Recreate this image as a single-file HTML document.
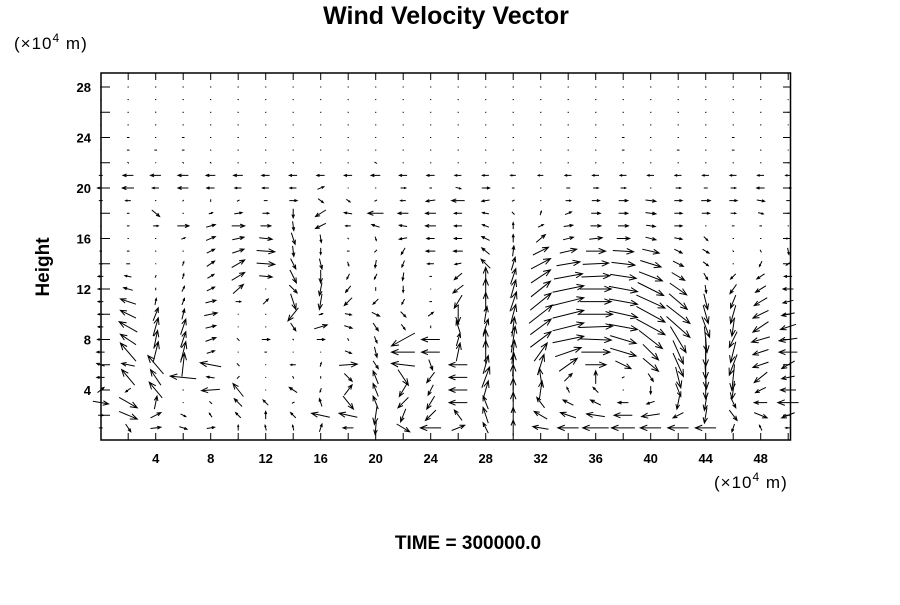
<!DOCTYPE html>
<html><head><meta charset="utf-8"><style>
body{margin:0;background:#fff;width:900px;height:600px;overflow:hidden}
svg text{font-family:"Liberation Sans",sans-serif}
</style></head><body>
<svg id="chart" width="900" height="600" viewBox="0 0 900 600">
<text x="446" y="24" text-anchor="middle" font-size="25" font-weight="bold">Wind Velocity Vector</text>
<text x="14" y="49" font-size="17" letter-spacing="1">(×10<tspan dy="-7" font-size="12">4</tspan><tspan dy="7">  m)</tspan></text>
<text transform="translate(49,267) rotate(-90)" text-anchor="middle" font-size="19" font-weight="bold">Height</text>
<text x="714" y="488" font-size="17" letter-spacing="1">(×10<tspan dy="-7" font-size="12">4</tspan><tspan dy="7">  m)</tspan></text>
<text x="468" y="549" text-anchor="middle" font-size="19" font-weight="bold">TIME = 300000.0</text>
<g id="ticks"></g>
<g id="arrows"></g>
<rect x="101" y="73" width="689.5" height="367" fill="none" stroke="#000" stroke-width="1.5"/>
</svg>
<script>
const xTicks=[4,8,12,16,20,24,28,32,36,40,44,48];
const yTicks=[4,8,12,16,20,24,28];
const xs=[0,2,4,6,8,10,12,14,16,18,20,22,24,26,28,30,32,34,36,38,40,42,44,46,48,50];
const ys=[28,27,26,25,24,23,22,21,20,19,18,17,16,15,14,13,12,11,10,9,8,7,6,5,4,3,2,1];
const U=[
[0,1,1,1,1,1,1,1,1,1,1,1,1,1,1,1,1,1,1,1,1,1,1,1,1,0],
[0,1,1,1,1,1,1,1,1,1,1,1,1,1,1,1,1,1,1,1,1,1,1,1,1,0],
[0,1,0,1,1,1,1,1,1,1,1,1,1,1,1,1,1,1,1,1,1,1,1,1,1,0],
[0,1,1,1,1,1,1,1,1,1,1,1,1,1,1,1,1,1,1,1,1,1,1,1,1,0],
[0,2,1,2,1,1,1,1,1,1,1,1,1,1,1,1,1,1,1,2,1,1,1,2,1,0],
[0,2,2,2,1,1,1,1,1,1,1,1,1,1,1,1,1,1,1,2,1,2,1,2,1,0],
[0,1,0,1,-1,1,1,-1,1,1,-2,1,1,1,1,1,1,1,1,1,1,1,1,1,1,1],
[-3,-8,-8,-8,-7,-7,-6,-6,-6,-6,-7,-6,-6,-5,-5,-4,-4,-5,-5,-5,-5,-5,-5,-5,-5,-4],
[-5,-9,-5,-8,-6,-5,-5,-5,5,0,1,4,2,4,6,2,1,3,4,4,1,4,3,4,-6,4],
[-3,-4,1,1,0,2,3,6,4,3,2,-4,-7,-10,-6,-2,1,4,6,7,8,6,7,6,6,3],
[0,2,6,1,3,6,5,0,-8,-6,-12,-8,-8,-6,-5,-2,1,5,7,7,8,6,6,4,4,2],
[0,2,4,9,7,10,8,1,-8,-4,-6,-6,-8,-6,-5,0,4,7,8,8,7,6,1,2,2,1],
[0,1,1,3,7,9,10,3,1,1,1,-6,-6,-6,-6,0,7,8,10,10,8,6,3,1,1,-4],
[-2,2,1,1,6,9,14,1,0,2,-2,-3,-7,-7,-6,1,12,13,15,16,13,6,5,1,1,1],
[-3,-3,0,1,6,10,14,4,2,1,-1,-2,-5,-5,-7,3,15,18,20,18,16,8,4,1,-2,-3],
[-4,-5,1,1,5,10,10,5,0,-2,-2,-1,-2,-6,0,4,15,22,22,20,18,10,3,-4,-6,-6],
[-4,-7,0,2,6,8,0,6,-2,-4,0,0,0,-8,0,4,15,24,24,22,20,13,1,-5,-8,-8],
[-4,-12,1,2,8,4,4,4,-2,-6,-4,-2,-2,-6,0,5,16,24,24,22,22,14,3,-4,-10,-8],
[-4,-12,4,2,10,0,1,-8,3,5,6,4,4,0,2,4,18,24,26,22,22,18,4,-4,-12,-10],
[-4,-14,4,4,8,0,1,4,10,6,4,3,0,-3,4,2,16,24,26,22,22,18,6,-2,-12,-12],
[-5,-12,3,4,8,2,6,1,6,1,2,-18,-14,3,0,3,16,24,24,20,18,12,2,-6,-14,-14],
[-6,-12,4,4,6,0,2,0,0,5,2,-18,-14,3,0,2,10,20,22,20,12,8,0,-4,-12,-14],
[-6,-10,-12,2,-16,2,0,-4,1,14,4,-18,3,-14,4,1,5,14,16,12,12,8,0,-6,-12,-10],
[-6,-10,-8,-20,-6,-2,0,-1,0,6,-4,8,-6,-14,6,0,-2,6,0,2,4,4,1,-2,-10,-10],
[5,-4,-10,1,-14,-8,0,-6,-1,6,-4,-6,-4,-14,4,0,2,-2,-4,0,0,4,0,-2,-8,-12],
[12,14,2,0,-2,-6,-4,-2,-2,8,-4,-8,-6,-14,-4,0,-6,-8,-8,-8,-6,-2,-2,4,-10,-16],
[4,14,8,4,-2,-4,0,-4,-14,-14,-2,-4,-8,-6,-4,0,-10,-12,-14,-14,-14,-8,-2,6,10,-10],
[3,4,8,6,6,0,-1,-1,2,-8,-1,10,-16,10,-4,0,-12,-16,-20,-18,-16,-16,-16,-2,-2,-4]
];
const V=[
[0,0,0,0,0,0,0,0,0,0,0,0,0,0,0,0,0,0,0,0,0,0,0,0,0,0],
[0,0,0,0,0,0,0,0,0,0,0,0,0,0,0,0,0,0,0,0,0,0,0,0,0,0],
[0,0,1,0,0,0,0,0,0,0,0,0,0,0,0,0,0,0,0,0,0,0,0,0,0,0],
[0,0,0,0,0,0,0,0,0,0,0,0,0,0,0,0,0,0,0,0,0,0,0,0,0,0],
[0,0,0,0,0,0,0,0,0,0,0,0,0,0,0,0,0,0,0,0,0,0,0,0,0,0],
[0,0,0,0,0,0,0,0,0,0,0,0,0,0,0,0,0,0,0,0,0,0,0,0,0,0],
[0,-1,0,-1,1,0,0,1,0,0,1,0,0,0,0,0,0,0,0,0,0,0,0,0,0,0],
[0,0,0,0,0,0,0,0,0,0,0,0,0,0,0,0,0,0,0,0,0,0,0,0,0,0],
[0,0,0,0,0,0,0,0,2,0,0,0,0,-1,0,0,0,0,0,0,0,0,0,0,0,0],
[0,0,0,1,2,1,0,0,-3,-2,1,0,-1,0,-1,-1,0,0,0,0,-1,0,0,0,-1,0],
[0,0,-5,0,1,1,0,-7,-5,1,0,0,0,0,1,2,3,2,0,0,-1,0,0,0,-1,0],
[0,0,0,0,2,0,0,-7,-4,0,2,1,0,0,2,5,2,1,0,0,-1,0,0,0,0,0],
[0,0,0,1,3,2,-1,-9,-6,-1,-3,-1,0,0,3,6,6,2,1,0,-2,-1,-3,0,0,0],
[0,0,0,0,3,3,-1,-8,-5,0,-2,-5,0,0,5,8,6,3,0,-1,-3,-3,-3,-1,-2,-5],
[0,0,0,3,4,6,-1,-8,-8,-3,-6,-5,0,-1,7,10,8,3,1,-2,-5,-4,-3,0,-4,-2],
[0,1,2,4,3,6,-1,-10,-10,-4,-4,-6,0,-5,14,12,10,4,1,-3,-7,-6,-5,-4,-4,0],
[0,2,-2,4,3,7,0,-6,-10,-5,-3,-5,0,-6,16,14,12,5,0,-4,-10,-9,-6,-7,-5,0],
[0,4,5,5,2,0,4,-12,-12,-6,-4,-4,0,-10,14,15,13,6,0,-4,-10,-12,-12,-10,-6,-2],
[0,6,10,8,2,0,0,-10,1,-1,-3,-4,3,-14,12,15,14,6,0,-5,-12,-14,-14,-14,-6,-2],
[0,8,14,12,2,0,0,-6,3,-2,-6,-4,-2,9,12,15,12,6,1,-4,-12,-16,-16,-14,-8,-4],
[0,8,14,12,3,-2,0,-1,0,-2,-5,-10,0,10,15,20,12,5,-1,-6,-14,-20,-20,-12,-4,-2],
[0,14,16,16,2,0,0,0,0,-2,-8,0,0,14,18,18,14,7,0,-6,-12,-18,-22,-16,-4,0],
[2,2,14,18,3,-2,0,0,3,1,-6,2,-8,0,14,18,16,10,0,-6,-10,-18,-22,-16,-4,-6],
[0,12,12,2,1,-2,0,2,2,-6,10,-12,-8,0,16,20,14,6,10,1,-6,-16,-18,-20,-8,-2],
[4,-3,12,0,-1,10,0,4,-3,8,10,-10,-8,0,14,18,14,4,4,1,-6,-10,-14,-14,-4,0],
[-2,-8,10,0,2,6,4,-1,6,-10,10,-8,-10,0,10,16,8,4,4,0,-2,-10,-12,-8,0,0],
[0,-6,4,-2,3,4,6,4,3,3,-14,-10,-8,8,12,12,6,4,2,0,-2,-4,-12,-8,-4,-4],
[0,-6,1,-2,1,4,4,4,6,0,-10,-6,0,4,8,12,2,0,0,0,0,0,0,-6,4,0]
];
const NS='http://www.w3.org/2000/svg';
const X0=100.7,XK=13.75,Y0=440.5,YK=12.625,SC=1.3;
function sx(v){return X0+v*XK;}
function sy(v){return Y0-v*YK;}
function mk(tag){return document.createElementNS(NS,tag);}
const tg=document.getElementById('ticks');
function line(g,x1,y1,x2,y2){const l=mk('line');l.setAttribute('x1',x1);l.setAttribute('y1',y1);l.setAttribute('x2',x2);l.setAttribute('y2',y2);l.setAttribute('stroke','#000');l.setAttribute('stroke-width','1');g.appendChild(l);return l;}
for(let v=2;v<=50;v+=2){
  const x=sx(v);
  const t1=line(tg,x,440,x,433);
  
  
  const t2=line(tg,x,73,x,80);
  
  
}
for(let v=2;v<=28;v+=2){
  const y=sy(v);
  const t1=line(tg,101,y,110,y);
  
  
  const t2=line(tg,790,y,783,y);
  
  
}
xTicks.forEach(v=>{const t=mk('text');t.setAttribute('x',sx(v));t.setAttribute('y',463);t.setAttribute('text-anchor','middle');t.setAttribute('font-size','13');t.setAttribute('font-weight','bold');t.textContent=v;


tg.appendChild(t);});
yTicks.forEach(v=>{const t=mk('text');t.setAttribute('x',91);t.setAttribute('y',sy(v)+5);t.setAttribute('text-anchor','end');t.setAttribute('font-size','13');t.setAttribute('font-weight','bold');t.textContent=v;


tg.appendChild(t);});
const ag=document.getElementById('arrows');
ys.forEach((yv,r)=>{xs.forEach((xv,c)=>{
  const u=U[r][c]*SC,w=V[r][c]*SC;
  const cx=sx(xv),cy=sy(yv);
  const x1=cx-u/2,y1=cy+w/2,x2=cx+u/2,y2=cy-w/2;
  const p=mk('path');
  const L=Math.hypot(u,w);
  let d='M'+x1.toFixed(1)+' '+y1.toFixed(1)+'L'+x2.toFixed(1)+' '+y2.toFixed(1);
  if(L>=4){const ux=(x2-x1)/L,uy=(y2-y1)/L,h=Math.min(7,L*0.35);
    const ax=x2-h*ux,ay=y2-h*uy,px=-uy*h*0.4,py=ux*h*0.4;
    d+='M'+(ax+px).toFixed(1)+' '+(ay+py).toFixed(1)+'L'+x2.toFixed(1)+' '+y2.toFixed(1)+'L'+(ax-px).toFixed(1)+' '+(ay-py).toFixed(1);}
  else if(L<0.5){d='M'+(cx-0.5)+' '+cy+'L'+(cx+0.5)+' '+cy;}
  p.setAttribute('d',d);p.setAttribute('stroke','#000');p.setAttribute('fill','none');p.setAttribute('stroke-width','1');
  
  
  ag.appendChild(p);
});});
</script>
</body></html>
